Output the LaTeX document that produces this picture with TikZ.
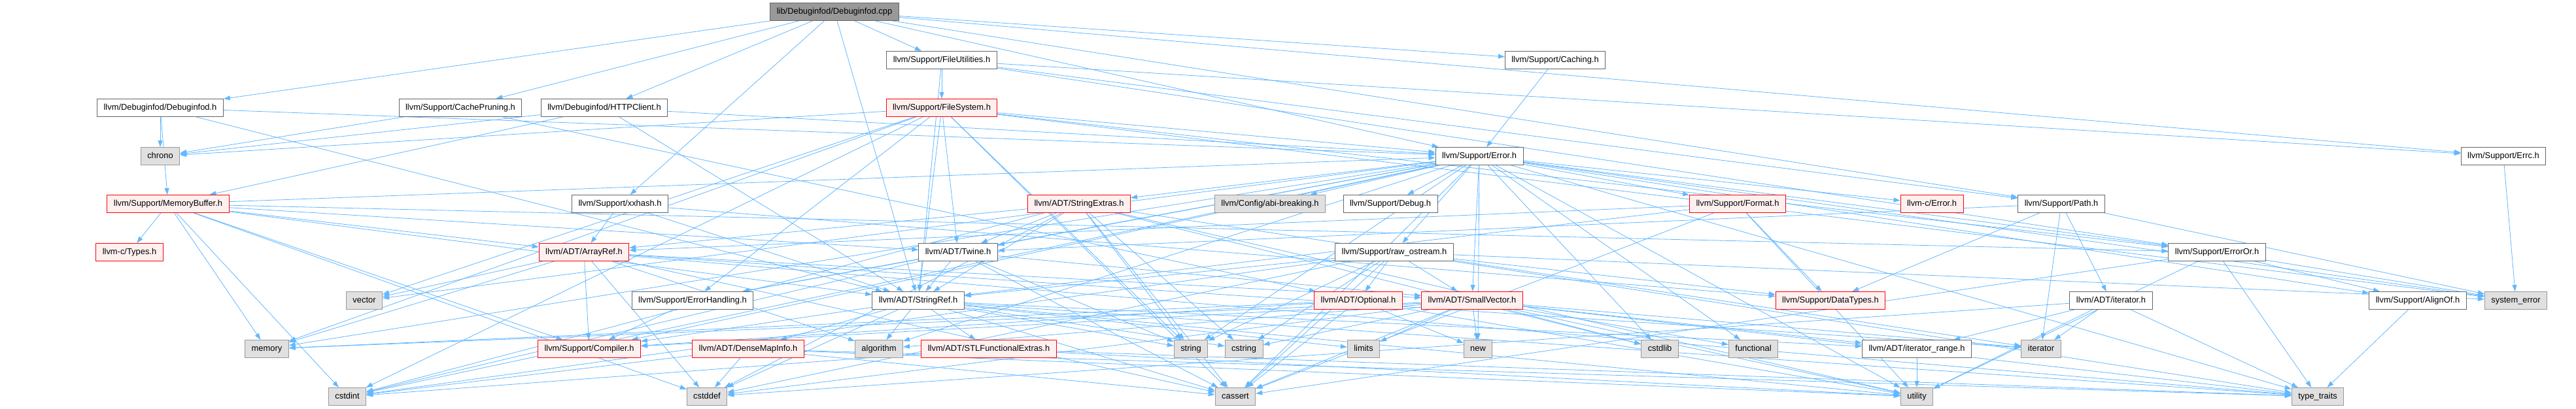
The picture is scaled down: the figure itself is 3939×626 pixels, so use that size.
\documentclass[tikz,border=0pt]{standalone}
\usepackage{fontspec}
\setmainfont{Liberation Sans}
\usetikzlibrary{arrows.meta}
\definecolor{depblue}{HTML}{63B8FF}
\definecolor{hdrred}{HTML}{FFF0F0}
\pgfdeclarelayer{back}
\pgfsetlayers{back,main}

\begin{document}
\begin{tikzpicture}[x=1pt,y=-1pt,
  box/.style={line width=1pt,minimum height=27pt,inner xsep=10pt,inner ysep=0pt,
    text height=9.6pt,text depth=2.8pt,font=\fontsize{12.9}{14}\selectfont},
  hdr/.style={box,draw=black!60,fill=white},
  trunc/.style={box,draw=red,fill=hdrred},
  sys/.style={box,draw=black!40,fill=black!12},
  src/.style={box,draw=black!60,fill=black!40},
  dep/.style={draw=depblue,line width=0.8pt,-{Triangle[length=10pt,width=7pt]}}]
\useasboundingbox (0,0) rectangle (3939,626);

\node[src] (root) at (1276,18) {lib/Debuginfod/Debuginfod.cpp};
\node[hdr] (fileutil) at (1440,92) {llvm/Support/FileUtilities.h};
\node[hdr] (caching) at (2378,92) {llvm/Support/Caching.h};
\node[hdr] (debuginfod) at (245,165) {llvm/Debuginfod/Debuginfod.h};
\node[hdr] (cachepruning) at (704,165) {llvm/Support/CachePruning.h};
\node[hdr] (httpclient) at (924,165) {llvm/Debuginfod/HTTPClient.h};
\node[trunc] (filesystem) at (1440,165) {llvm/Support/FileSystem.h};
\node[sys] (chrono) at (245,239) {chrono};
\node[hdr] (error) at (2262,239) {llvm/Support/Error.h};
\node[hdr] (errc) at (3828,239) {llvm/Support/Errc.h};
\node[trunc] (memorybuffer) at (257,312) {llvm/Support/MemoryBuffer.h};
\node[hdr] (xxhash) at (948,312) {llvm/Support/xxhash.h};
\node[trunc] (stringextras) at (1650,312) {llvm/ADT/StringExtras.h};
\node[sys] (abibreaking) at (1942,312) {llvm/Config/abi-breaking.h};
\node[hdr] (debug) at (2126,312) {llvm/Support/Debug.h};
\node[trunc] (format) at (2657,312) {llvm/Support/Format.h};
\node[trunc] (cerror) at (2954,312) {llvm-c/Error.h};
\node[hdr] (path) at (3152,312) {llvm/Support/Path.h};
\node[trunc] (ctypes) at (198,386) {llvm-c/Types.h};
\node[trunc] (arrayref) at (893,386) {llvm/ADT/ArrayRef.h};
\node[hdr] (twine) at (1465,386) {llvm/ADT/Twine.h};
\node[hdr] (rawostream) at (2132,386) {llvm/Support/raw\_ostream.h};
\node[hdr] (erroror) at (3390,386) {llvm/Support/ErrorOr.h};
\node[sys] (vector) at (557,460) {vector};
\node[hdr] (errorhandling) at (1059,460) {llvm/Support/ErrorHandling.h};
\node[hdr] (stringref) at (1404,460) {llvm/ADT/StringRef.h};
\node[trunc] (optional) at (2077,460) {llvm/ADT/Optional.h};
\node[trunc] (smallvector) at (2251,460) {llvm/ADT/SmallVector.h};
\node[trunc] (datatypes) at (2799,460) {llvm/Support/DataTypes.h};
\node[hdr] (iteratorh) at (3228,460) {llvm/ADT/iterator.h};
\node[hdr] (alignof) at (3697,460) {llvm/Support/AlignOf.h};
\node[sys] (systemerror) at (3847,460) {system\_error};
\node[sys] (memory) at (408,534) {memory};
\node[trunc] (compiler) at (901,534) {llvm/Support/Compiler.h};
\node[trunc] (densemapinfo) at (1144,534) {llvm/ADT/DenseMapInfo.h};
\node[sys] (algorithm) at (1344,534) {algorithm};
\node[trunc] (stlfunc) at (1512,534) {llvm/ADT/STLFunctionalExtras.h};
\node[sys] (string) at (1821,534) {string};
\node[sys] (cstring) at (1902,534) {cstring};
\node[sys] (limits) at (2085,534) {limits};
\node[sys] (new) at (2260,534) {new};
\node[sys] (cstdlib) at (2538,534) {cstdlib};
\node[sys] (functional) at (2681,534) {functional};
\node[hdr] (iterrange) at (2931,534) {llvm/ADT/iterator\_range.h};
\node[sys] (iterator) at (3121,534) {iterator};
\node[sys] (cstdint) at (531,607) {cstdint};
\node[sys] (cstddef) at (1081,607) {cstddef};
\node[sys] (cassert) at (1889,607) {cassert};
\node[sys] (utility) at (2931,607) {utility};
\node[sys] (typetraits) at (3544,607) {type\_traits};

\begin{pgfonlayer}{back}
\fill[white] (0,0) rectangle (3939,626);
\foreach \t in {debuginfod,stringref,httpclient,cachepruning,caching,errc,error,fileutil,path,xxhash}
  \draw[dep] (root) -- (\t);
\foreach \t in {stringref,error,memorybuffer,chrono}
  \draw[dep] (debuginfod) -- (\t);
\foreach \t in {optional,chrono}
  \draw[dep] (cachepruning) -- (\t);
\foreach \t in {stringref,error,memorybuffer,chrono}
  \draw[dep] (httpclient) -- (\t);
\draw[dep] (caching) -- (error);
\draw[dep] (errc) -- (systemerror);
\foreach \t in {arrayref,stringref,datatypes}
  \draw[dep] (xxhash) -- (\t);
\foreach \t in {stringref,errc,erroror,filesystem,path}
  \draw[dep] (fileutil) -- (\t);
\foreach \t in {stringref,twine,error,errorhandling,erroror,chrono,cassert,cstdint,memory,string,systemerror,vector}
  \draw[dep] (filesystem) -- (\t);
\foreach \t in {ctypes,arrayref,stringref,twine,error,erroror,compiler,cstddef,cstdint,memory}
  \draw[dep] (memorybuffer) -- (\t);
\foreach \t in {smallvector,compiler,algorithm,cassert,cstddef,iterator,memory,typetraits,vector}
  \draw[dep] (arrayref) -- (\t);
\foreach \t in {smallvector,stringref,errorhandling,cassert,cstdint,string}
  \draw[dep] (twine) -- (\t);
\foreach \t in {densemapinfo,stlfunc,iterrange,compiler,algorithm,cassert,cstddef,cstring,limits,string,typetraits,utility}
  \draw[dep] (stringref) -- (\t);
\draw[dep] (errorhandling) -- (compiler);
\foreach \t in {cerror,smallvector,stringextras,twine,abibreaking,alignof,compiler,debug,errorhandling,erroror,format,rawostream,algorithm,cassert,cstdint,cstdlib,functional,memory,new,string,systemerror,typetraits,utility,vector}
  \draw[dep] (error) -- (\t);
\foreach \t in {arrayref,stringref,twine,cassert,cstddef,cstdint,cstdlib,cstring,iterator,string,utility}
  \draw[dep] (stringextras) -- (\t);
\foreach \t in {arrayref,stringref,datatypes,cassert,utility}
  \draw[dep] (format) -- (\t);
\foreach \t in {smallvector,stringref,optional,datatypes,cassert,cstddef,cstdint,cstring,string,systemerror,typetraits}
  \draw[dep] (rawostream) -- (\t);
\foreach \t in {compiler,cassert,memory,new,utility}
  \draw[dep] (optional) -- (\t);
\foreach \t in {iterrange,compiler,algorithm,cassert,cstddef,cstdlib,cstring,functional,iterator,limits,memory,new,typetraits,utility}
  \draw[dep] (smallvector) -- (\t);
\draw[dep] (iterrange) -- (utility);
\foreach \t in {cassert,cstddef,cstdint,typetraits,utility}
  \draw[dep] (densemapinfo) -- (\t);
\foreach \t in {cstdint,typetraits,utility}
  \draw[dep] (stlfunc) -- (\t);
\foreach \t in {twine,iteratorh,datatypes,iterator,systemerror}
  \draw[dep] (path) -- (\t);
\foreach \t in {iterrange,cstddef,iterator,typetraits,utility}
  \draw[dep] (iteratorh) -- (\t);
\foreach \t in {alignof,cassert,systemerror,typetraits,utility}
  \draw[dep] (erroror) -- (\t);
\draw[dep] (alignof) -- (typetraits);
\end{pgfonlayer}
\end{tikzpicture}
\end{document}
